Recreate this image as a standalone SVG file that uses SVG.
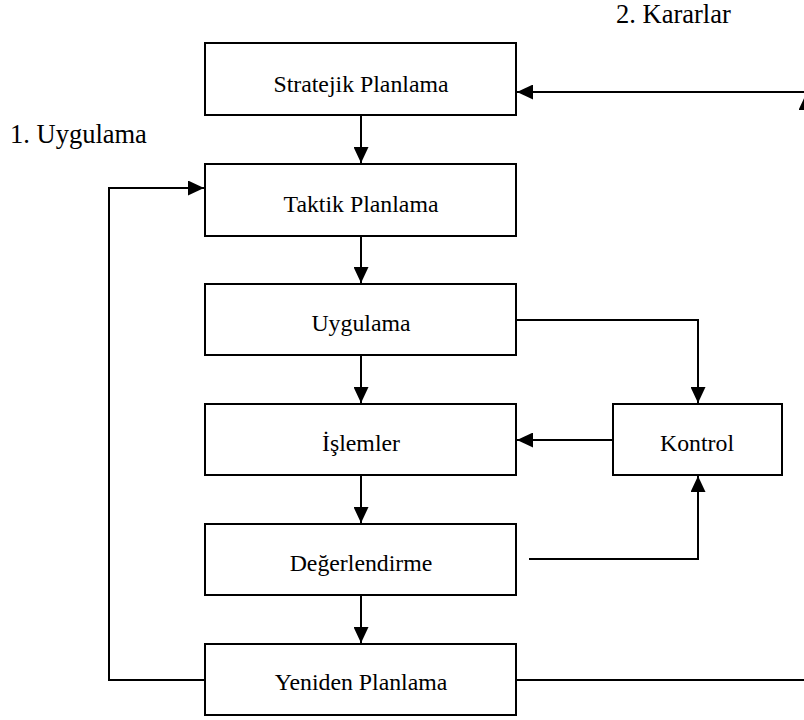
<svg xmlns="http://www.w3.org/2000/svg" width="804" height="720" viewBox="0 0 804 720">
  <style>
    .box rect { fill: #fff; stroke: #000; stroke-width: 2; }
    text { font-family: "Liberation Serif", "Times New Roman", "DejaVu Serif", serif; font-size: 23.8px; fill: #000; }
    .box text { text-anchor: middle; }
    .label { font-size: 26.5px; }
    .wire { fill: none; stroke: #000; stroke-width: 2; }
  </style>
  <defs>
    <marker id="arrow" viewBox="0 0 16 15" refX="16" refY="7.5" markerWidth="16" markerHeight="15" markerUnits="userSpaceOnUse" orient="auto">
      <path d="M0,0 L16,7.5 L0,15 Z" fill="#000"/>
    </marker>
  </defs>
  <rect width="804" height="720" fill="#fff"/>

  <text class="label" x="616" y="23" font-family="Liberation Serif, serif">2. Kararlar</text>
  <text class="label" x="10" y="143" font-family="Liberation Serif, serif">1. Uygulama</text>

  <g id="connectors">
    <!-- vertical flow down the main column -->
    <path class="wire" d="M361,115 V163" marker-end="url(#arrow)"/>
    <path class="wire" d="M361,236 V283" marker-end="url(#arrow)"/>
    <path class="wire" d="M361,355 V403" marker-end="url(#arrow)"/>
    <path class="wire" d="M361,475 V523" marker-end="url(#arrow)"/>
    <path class="wire" d="M361,595 V643" marker-end="url(#arrow)"/>
    <!-- decisions return to strategic planning -->
    <path class="wire" d="M810,92 H517" marker-end="url(#arrow)"/>
    <!-- re-planning to the right edge -->
    <path class="wire" d="M516,680 H812"/>
    <path class="wire" d="M806,680 V94" marker-end="url(#arrow)"/>
    <!-- re-planning back to tactical planning -->
    <path class="wire" d="M205,680 H109 V188 H204" marker-end="url(#arrow)"/>
    <!-- application to control -->
    <path class="wire" d="M516,320 H698 V403" marker-end="url(#arrow)"/>
    <!-- control to operations -->
    <path class="wire" d="M613,440 H517" marker-end="url(#arrow)"/>
    <!-- evaluation to control -->
    <path class="wire" d="M529,559 H698 V476" marker-end="url(#arrow)"/>
  </g>

  <g id="stratejik" class="box">
    <rect x="205" y="43" width="311" height="72"/>
    <text x="361" y="92" font-family="Liberation Serif, serif">Stratejik Planlama</text>
  </g>
  <g id="taktik" class="box">
    <rect x="205" y="164" width="311" height="72"/>
    <text x="361" y="212" font-family="Liberation Serif, serif">Taktik Planlama</text>
  </g>
  <g id="uygulama" class="box">
    <rect x="205" y="284" width="311" height="71"/>
    <text x="361" y="331" font-family="Liberation Serif, serif">Uygulama</text>
  </g>
  <g id="islemler" class="box">
    <rect x="205" y="404" width="311" height="71"/>
    <text x="361" y="451" font-family="Liberation Serif, serif">İşlemler</text>
  </g>
  <g id="kontrol" class="box">
    <rect x="613" y="404" width="169" height="71"/>
    <text x="697" y="451" font-family="Liberation Serif, serif">Kontrol</text>
  </g>
  <g id="degerlendirme" class="box">
    <rect x="205" y="524" width="311" height="71"/>
    <text x="361" y="571" font-family="Liberation Serif, serif">Değerlendirme</text>
  </g>
  <g id="yeniden" class="box">
    <rect x="205" y="644" width="311" height="71"/>
    <text x="361" y="690" font-family="Liberation Serif, serif">Yeniden Planlama</text>
  </g>
</svg>
